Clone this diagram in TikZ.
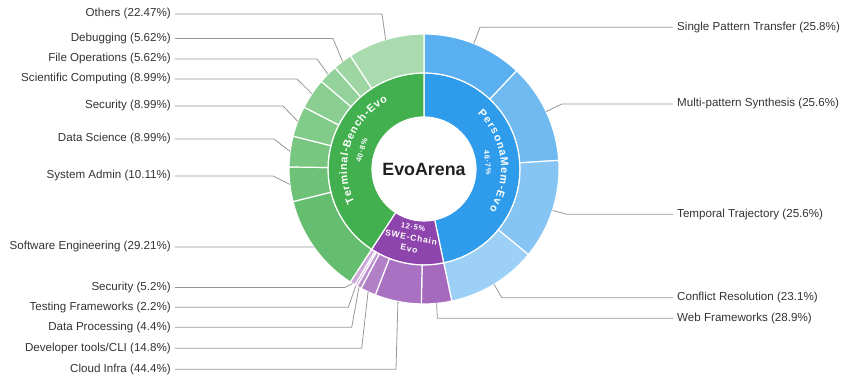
\documentclass[tikz,border=0pt]{standalone}
\usepackage{fontspec}
\setmainfont{Liberation Sans}
\newfontfamily\spacedsf[LetterSpace=10]{Liberation Sans}
\usetikzlibrary{decorations.text}

\definecolor{pmblue}{RGB}{47,155,235}
\definecolor{tbgreen}{RGB}{67,176,79}
\definecolor{swepurple}{RGB}{142,68,173}
\definecolor{leadgray}{RGB}{150,150,150}
\definecolor{labelgray}{RGB}{51,51,51}

% ring segment: inner radius, outer radius, start angle, end angle, colour
\newcommand{\ringseg}[5]{%
  \filldraw[fill=#5, draw=white, line width=1.2pt]
    (#3:#1) arc[start angle=#3, end angle=#4, radius=#1]
    -- (#4:#2) arc[start angle=#4, end angle=#3, radius=#2] -- cycle;}

\begin{document}
\begin{tikzpicture}[x=1pt, y=1pt,
    leader/.style={draw=leadgray, line width=0.8pt},
    leftlbl/.style={anchor=east, inner xsep=4pt, inner ysep=1pt, text=labelgray,
      font=\fontsize{11.6}{14}\selectfont},
    rightlbl/.style={leftlbl, anchor=west},
    pct/.style={text=white, inner sep=0pt, font=\spacedsf\bfseries\fontsize{7.5}{8}\selectfont},
    swetxt/.style={text=white, inner sep=0pt, font=\spacedsf\bfseries\fontsize{8.5}{9}\selectfont}]
  \useasboundingbox (-424,-210) rectangle (418,169);

  % inner ring
  \ringseg{52pt}{96pt}{90}{-78.12}{pmblue}
  \ringseg{52pt}{96pt}{-78.12}{-123.12}{swepurple}
  \ringseg{52pt}{96pt}{-123.12}{-270}{tbgreen}

  % outer ring, PersonaMem-Evo
  \ringseg{96pt}{135pt}{90}{46.67}{pmblue!80!white}
  \ringseg{96pt}{135pt}{46.67}{3.67}{pmblue!69!white}
  \ringseg{96pt}{135pt}{3.67}{-39.33}{pmblue!58!white}
  \ringseg{96pt}{135pt}{-39.33}{-78.12}{pmblue!47!white}

  % outer ring, SWE-Chain Evo
  \ringseg{96pt}{135pt}{-78.12}{-91.14}{swepurple!80!white}
  \ringseg{96pt}{135pt}{-91.14}{-111.14}{swepurple!76!white}
  \ringseg{96pt}{135pt}{-111.14}{-117.81}{swepurple!68!white}
  \ringseg{96pt}{135pt}{-117.81}{-119.79}{swepurple!60!white}
  \ringseg{96pt}{135pt}{-119.79}{-120.78}{swepurple!52!white}
  \ringseg{96pt}{135pt}{-120.78}{-123.12}{swepurple!45!white}

  % outer ring, Terminal-Bench-Evo
  \ringseg{96pt}{135pt}{-123.12}{-166.02}{tbgreen!82!white}
  \ringseg{96pt}{135pt}{-166.02}{-180.87}{tbgreen!77!white}
  \ringseg{96pt}{135pt}{-180.87}{-194.07}{tbgreen!72!white}
  \ringseg{96pt}{135pt}{-194.07}{-207.28}{tbgreen!67!white}
  \ringseg{96pt}{135pt}{-207.28}{-220.48}{tbgreen!62!white}
  \ringseg{96pt}{135pt}{-220.48}{-228.74}{tbgreen!57!white}
  \ringseg{96pt}{135pt}{-228.74}{-236.99}{tbgreen!52!white}
  \ringseg{96pt}{135pt}{-236.99}{-270}{tbgreen!46!white}

  % centre and ring texts
  \node[text=black!87, font=\bfseries\fontsize{17.8}{20}\selectfont] (evo) at (0,0) {EvoArena};
  \path[decorate, decoration={text along path, text align=fit to path,
      text={|\color{white}\bfseries\fontsize{10.8}{12}\selectfont|PersonaMem-Evo}}]
    (46:77pt) arc[start angle=46, end angle=-32, radius=77pt];
  \path[decorate, decoration={text along path, text align=fit to path,
      text={|\color{white}\bfseries\fontsize{10.8}{12}\selectfont|Terminal-Bench-Evo}}]
    (206:77pt) arc[start angle=206, end angle=118, radius=77pt];
  \node[pct, rotate=-84.1] (pmpct) at (5.9:64pt) {46·7\%};
  \node[pct, rotate=73.4] (tbpct) at (163.4:65pt) {40·8\%};
  \node[pct, rotate=-10.6] (swepct) at (-100.6:59pt) {12·5\%};
  \node[swetxt, rotate=-10.6] (swename) at (-100.6:69.5pt) {SWE-Chain};
  \node[swetxt, rotate=-10.6] (sweevo) at (-100.6:81pt) {Evo};

  % labels on the left
  \foreach \ang/\kx/\ly/\nm/\txt in {
      106.51/-42/155/oth/{Others (22.47\%)},
      127.14/-91/130.5/dbg/{Debugging (5.62\%)},
      135.39/-107/110/fop/{File Operations (5.62\%)},
      146.12/-127/90/sci/{Scientific Computing (8.99\%)},
      159.32/-141/63/sec/{Security (8.99\%)},
      172.53/-150/30/dsc/{Data Science (8.99\%)},
      186.55/-151/-7/sys/{System Admin (10.11\%)},
      215.43/-110/-78/sen/{Software Engineering (29.21\%)},
      238.05/-79/-118.5/ssc/{Security (5.2\%)},
      239.71/-75.7/-138.3/tst/{Testing Frameworks (2.2\%)},
      241.20/-72.3/-158.3/dpr/{Data Processing (4.4\%)},
      245.53/-62.3/-179.3/dev/{Developer tools/CLI (14.8\%)},
      258.86/-28/-200.3/cld/{Cloud Infra (44.4\%)}} {
    \coordinate (\nm-s) at (\ang:135pt);
    \coordinate (\nm-k) at (\kx,\ly);
    \node[leftlbl] (\nm) at (-249,\ly) {\txt};
    \draw[leader] (\nm-s) -- (\nm-k) -- (\nm.east);
  }

  % labels on the right
  \foreach \ang/\kx/\ly/\nm/\txt in {
      68.33/56/141.7/spt/{Single Pattern Transfer (25.8\%)},
      25.17/137.7/65/mps/{Multi-pattern Synthesis (25.6\%)},
      -17.83/142.7/-45.3/tmp/{Temporal Trajectory (25.6\%)},
      -58.73/77.7/-128.7/cfr/{Conflict Resolution (23.1\%)},
      -84.63/13.3/-149.3/web/{Web Frameworks (28.9\%)}} {
    \coordinate (\nm-s) at (\ang:135pt);
    \coordinate (\nm-k) at (\kx,\ly);
    \node[rightlbl] (\nm) at (249,\ly) {\txt};
    \draw[leader] (\nm-s) -- (\nm-k) -- (\nm.west);
  }
\end{tikzpicture}
\end{document}
